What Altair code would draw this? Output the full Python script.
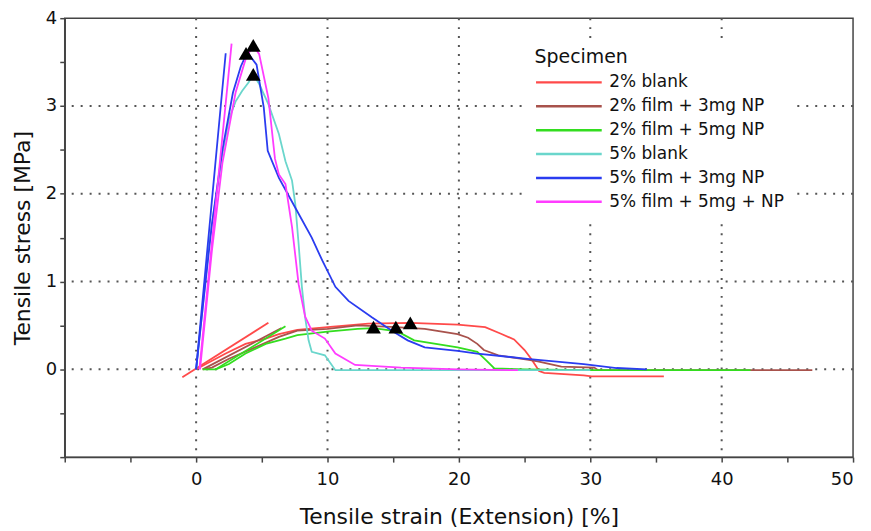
import altair as alt
import pandas as pd

# ---------------- data ----------------
specimens = ["2% blank", "2% film + 3mg NP", "2% film + 5mg NP",
             "5% blank", "5% film + 3mg NP", "5% film + 5mg + NP"]
colors = ["#ff4a4a", "#a8524c", "#33dd1f", "#6ad6cc", "#2a3cf0", "#ff3cff"]

# 2% blank
red_x = [0, 1.0, 2.25, 3.76, 5.3, 6.3, 7.7, 10, 13.1, 16.3, 19.9, 22.0, 23.2, 24.2, 25.0, 25.5, 25.9, 26.1, 26.5, 29.5, 30.1, 35.6]
red_y = [0, 0.08, 0.18, 0.29, 0.35, 0.40, 0.45, 0.48, 0.52, 0.53, 0.51, 0.48, 0.405, 0.34, 0.22, 0.12, 0.03, -0.02, -0.04, -0.07, -0.08, -0.08]
red_tan_x = [-1.05, 5.5]
red_tan_y = [-0.09, 0.53]

# 2% film + 3mg NP
brown_x = [0.5, 1.2, 2.5, 4.5, 6.3, 7.7, 10, 12.3, 15.2, 17.4, 19.9, 20.7, 21.4, 21.9, 23.0, 25.2, 26.0, 27.8, 30.3, 30.6, 35, 40, 46.9]
brown_y = [0, 0.02, 0.12, 0.25, 0.37, 0.44, 0.46, 0.50, 0.48, 0.46, 0.40, 0.36, 0.29, 0.22, 0.16, 0.11, 0.09, 0.03, 0.02, -0.01, -0.01, -0.01, -0.01]
brown_tan_x = [0.5, 6.5]
brown_tan_y = [0.0, 0.47]

# 2% film + 5mg NP
green_x = [0.5, 1.5, 2.5, 3.76, 5.3, 6.8, 7.7, 10, 12.3, 13.5, 14.9, 15.6, 16.6, 19.9, 21.4, 22.1, 22.7, 25, 30, 35, 42.2]
green_y = [0, 0, 0.06, 0.18, 0.29, 0.35, 0.39, 0.43, 0.46, 0.47, 0.44, 0.41, 0.33, 0.25, 0.20, 0.10, 0.01, 0.0, -0.01, -0.01, -0.01]
green_tan_x = [1.5, 6.8]
green_tan_y = [0.0, 0.49]

# 5% blank
cyan_x = [0, 0.5, 1.0, 2.0, 2.5, 3.0, 3.5, 4.0, 4.35, 4.8, 5.5, 6.3, 6.8, 7.3, 7.55, 7.8, 8.05, 8.3, 8.56, 8.8, 9.8, 10.6, 15, 20, 25, 30]
cyan_y = [0, 0.7, 1.45, 2.45, 2.85, 3.05, 3.17, 3.27, 3.36, 3.25, 3.02, 2.68, 2.37, 2.15, 1.88, 1.43, 0.94, 0.59, 0.33, 0.2, 0.16, -0.01, -0.01, -0.01, -0.01, -0.01]

# 5% film + 3mg NP
blue_x = [0, 0.5, 1.2, 2.0, 2.8, 3.4, 3.8, 4.0, 4.6, 5.15, 5.45, 6.3, 7.55, 8.8, 9.6, 10.6, 11.6, 13.4, 14.9, 16.1, 17.4, 19.9, 21.4, 25.2, 29.5, 32, 34.3]
blue_y = [0, 0.7, 1.65, 2.5, 3.15, 3.45, 3.58, 3.59, 3.47, 2.98, 2.49, 2.18, 1.84, 1.5, 1.24, 0.94, 0.78, 0.59, 0.44, 0.33, 0.25, 0.21, 0.18, 0.12, 0.06, 0.015, 0.0]
blue_tan_x = [0, 2.25]
blue_tan_y = [0, 3.6]

# 5% film + 5mg + NP
mag_x = [0.3, 1.2, 2.0, 3.0, 3.8, 4.35, 4.8, 5.5, 6.0, 6.3, 6.8, 7.3, 7.8, 8.3, 8.8, 9.8, 10.6, 12.1, 15.6, 20, 24.5]
mag_y = [0, 1.35, 2.35, 3.15, 3.55, 3.69, 3.59, 3.09, 2.4, 2.22, 2.11, 1.62, 0.97, 0.6, 0.44, 0.35, 0.18, 0.05, 0.02, 0.0, -0.01]
mag_tan_x = [0.25, 2.7]
mag_tan_y = [0, 3.71]

# maximum markers
tri_x = [3.8, 4.35, 4.35, 13.5, 15.2, 16.3]
tri_y = [3.6, 3.69, 3.36, 0.48, 0.48, 0.53]

# axes / grid
x_ticks = [-10, -5, 0, 5, 10, 15, 20, 25, 30, 35, 40, 45, 50]
y_ticks = [-1, -0.5, 0, 0.5, 1, 1.5, 2, 2.5, 3, 3.5, 4]
x_grid = [0, 10, 20, 30, 40]
y_grid = [0, 1, 2, 3]

# ---------------- build table ----------------
series = [
    (specimens[0], "red_curve", red_x, red_y),
    (specimens[0], "red_tan", red_tan_x, red_tan_y),
    (specimens[1], "brown_curve", brown_x, brown_y),
    (specimens[1], "brown_tan", brown_tan_x, brown_tan_y),
    (specimens[2], "green_curve", green_x, green_y),
    (specimens[2], "green_tan", green_tan_x, green_tan_y),
    (specimens[3], "cyan_curve", cyan_x, cyan_y),
    (specimens[4], "blue_curve", blue_x, blue_y),
    (specimens[4], "blue_tan", blue_tan_x, blue_tan_y),
    (specimens[5], "mag_curve", mag_x, mag_y),
    (specimens[5], "mag_tan", mag_tan_x, mag_tan_y),
]
rows = []
for spec, seg, xs, ys in series:
    for i, (xv, yv) in enumerate(zip(xs, ys)):
        rows.append({"specimen": spec, "seg": seg, "i": i, "x": xv, "y": yv})
df = pd.DataFrame(rows)
tri_df = pd.DataFrame({"x": tri_x, "y": tri_y})
gx_df = pd.DataFrame({"x": x_grid})
gy_df = pd.DataFrame({"y": y_grid})

FONT = "DejaVu Sans"
AX = "#444444"

x_scale = alt.Scale(domain=[-10, 50], nice=False, zero=False)
y_scale = alt.Scale(domain=[-1, 4], nice=False, zero=False)

x_axis = alt.Axis(values=x_ticks, grid=False, tickSize=5, labelPadding=9, format="~g",
                  labelExpr="datum.value >= 0 && datum.value % 10 == 0 ? datum.label : ''",
                  domainColor=AX, tickColor=AX, domainWidth=1.5, tickWidth=1.5,
                  titleY=67, titleBaseline="alphabetic")
y_axis = alt.Axis(values=y_ticks, grid=False, tickSize=5, labelPadding=3, format="~g",
                  labelExpr="datum.value >= 0 && datum.value % 1 == 0 ? datum.label : ''",
                  domainColor=AX, tickColor=AX, domainWidth=1.5, tickWidth=1.5,
                  titleX=-42, titleBaseline="middle")

X = lambda: alt.X("x:Q", scale=x_scale, axis=x_axis, title="Tensile strain (Extension) [%]")
Y = lambda: alt.Y("y:Q", scale=y_scale, axis=y_axis, title="Tensile stress [MPa]")

grid_style = dict(color="#555555", strokeDash=[2, 7], strokeWidth=2)
gx = alt.Chart(gx_df).mark_rule(**grid_style).encode(x=X())
gy = alt.Chart(gy_df).mark_rule(**grid_style).encode(y=Y())

lines = alt.Chart(df).mark_line(strokeWidth=1.8).encode(
    x=X(), y=Y(),
    color=alt.Color("specimen:N",
                    scale=alt.Scale(domain=specimens, range=colors),
                    sort=specimens,
                    legend=alt.Legend(title="Specimen", orient="none", legendX=464, legendY=22,
                                      fillColor="white", padding=8,
                                      symbolType="M-5.5,0H5.5", symbolSize=144,
                                      symbolStrokeWidth=2.5, symbolOffset=26,
                                      labelFontSize=17, titleFontSize=19, titleFontWeight="normal",
                                      labelFont=FONT, titleFont=FONT, labelOffset=32,
                                      rowPadding=6, titlePadding=7,
                                      labelColor="#111111", titleColor="#111111",
                                      labelLimit=400)),
    detail="seg:N",
    order="i:Q",
)

tris = alt.Chart(tri_df).mark_point(shape="triangle-up", filled=True, color="black",
                                    size=220, opacity=1).encode(x=X(), y=Y())

chart = alt.layer(gx, gy, lines, tris).properties(
    width=792, height=441,
    autosize=alt.AutoSizeParams(type="none"),
    padding={"left": 57, "top": 9, "right": 10, "bottom": 73},
).configure_view(stroke=AX, strokeWidth=1.5).configure_axis(
    labelFont=FONT, titleFont=FONT, labelFontSize=18, titleFontSize=22,
    titleFontWeight="normal", labelColor="#111111", titleColor="#111111",
)

chart.save("out.html", embed_options={"renderer": "svg", "actions": False})
